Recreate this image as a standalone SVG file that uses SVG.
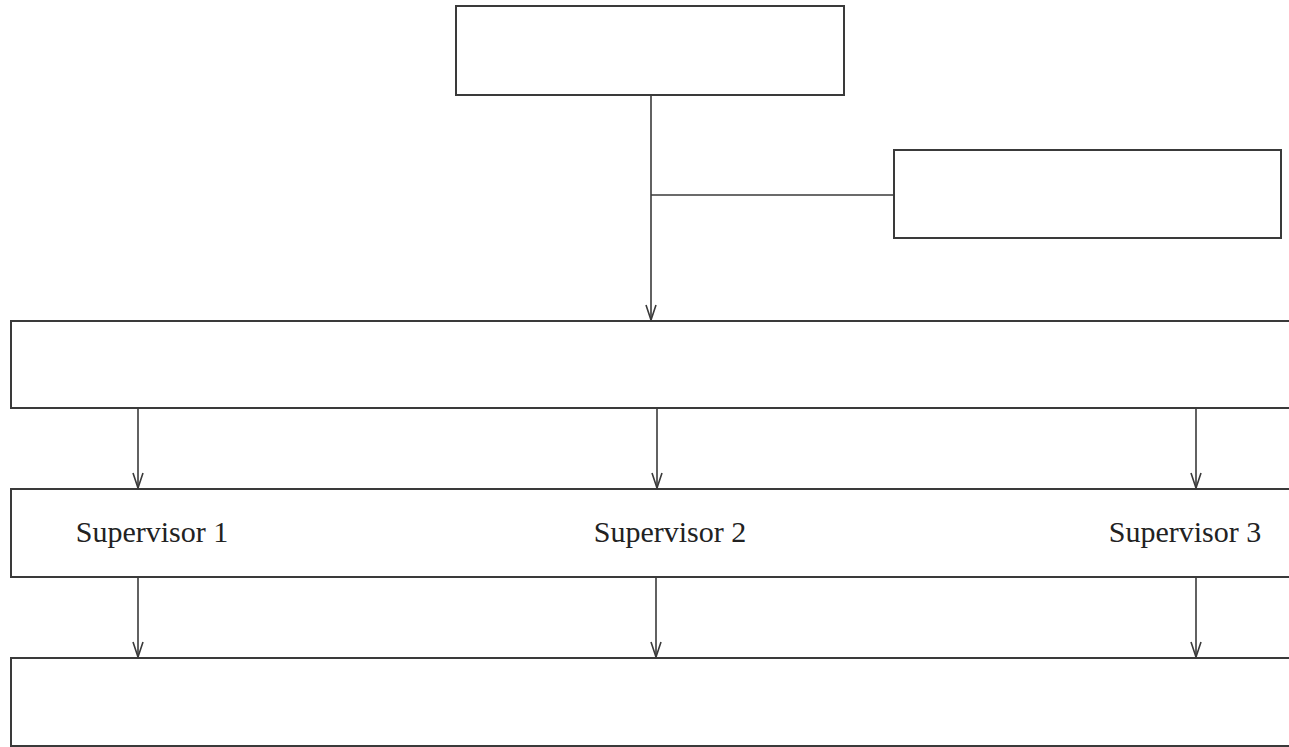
<svg xmlns="http://www.w3.org/2000/svg" width="1289" height="747" viewBox="0 0 1289 747">
<style>
.box{fill:#fff;stroke:#3a3a3a;stroke-width:2}
.ln{fill:none;stroke:#3a3a3a;stroke-width:1.6}
.lbl{font-family:"Liberation Serif","Times New Roman",serif;font-size:30px;fill:#222;text-anchor:middle}
</style>
<defs>
<marker id="ah" markerWidth="18" markerHeight="12" refX="16" refY="6" orient="auto" markerUnits="userSpaceOnUse" viewBox="0 0 18 12">
<path d="M1,1 L16,6 L1,11" fill="none" stroke="#3a3a3a" stroke-width="1.6"/>
</marker>
</defs>
<rect width="1289" height="747" fill="#fff"/>
<g id="node-top"><rect class="box" x="456" y="6" width="388" height="89"/></g>
<g id="node-side"><rect class="box" x="894" y="150" width="387" height="88"/></g>
<g id="node-level1"><rect class="box" x="11" y="321" width="1290" height="87"/></g>
<g id="node-supervisors"><rect class="box" x="11" y="489" width="1290" height="88"/>
<text class="lbl" x="152" y="542">Supervisor 1</text>
<text class="lbl" x="670" y="542">Supervisor 2</text>
<text class="lbl" x="1185" y="542">Supervisor 3</text>
</g>
<g id="node-bottom"><rect class="box" x="11" y="658" width="1290" height="88"/></g>
<g id="connectors">
<line class="ln" x1="651" y1="95" x2="651" y2="320" marker-end="url(#ah)"/>
<line class="ln" x1="651" y1="195" x2="894" y2="195"/>
<line class="ln" x1="138" y1="408" x2="138" y2="488" marker-end="url(#ah)"/>
<line class="ln" x1="657" y1="408" x2="657" y2="488" marker-end="url(#ah)"/>
<line class="ln" x1="1196" y1="408" x2="1196" y2="488" marker-end="url(#ah)"/>
<line class="ln" x1="138" y1="577" x2="138" y2="657" marker-end="url(#ah)"/>
<line class="ln" x1="656" y1="577" x2="656" y2="657" marker-end="url(#ah)"/>
<line class="ln" x1="1196" y1="577" x2="1196" y2="657" marker-end="url(#ah)"/>
</g>
</svg>
